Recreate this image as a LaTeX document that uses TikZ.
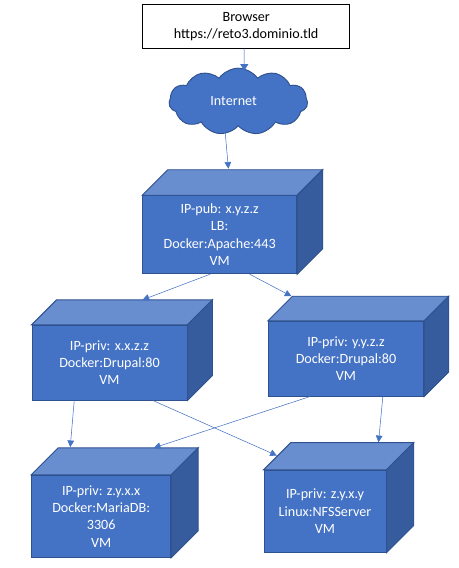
\documentclass[tikz,border=0pt]{standalone}
\usepackage{fontspec}
\setmainfont{Carlito}
\usetikzlibrary{positioning, calc, arrows.meta, shapes.symbols}

\begin{document}
\begin{tikzpicture}[x=0.75pt, y=-0.75pt,
        vmface/.style={draw=myedge, line width=0.7pt, fill=myblue, text=white, align=center, font=\fontsize{10.6}{13}\selectfont, inner sep=0pt},
        vmtop/.style={draw=myedge, line width=0.7pt, fill=mylight},
        vmside/.style={draw=myedge, line width=0.7pt, fill=mydark},
        link/.style={->, >={Triangle[length=5pt, width=5pt]}, draw=myblue, line width=0.4pt}
    ]
        % Colours
        \definecolor{myblue}{RGB}{68, 114, 196}
        \definecolor{myedge}{RGB}{47, 82, 143}
        \definecolor{mylight}{RGB}{105, 142, 208}
        \definecolor{mydark}{RGB}{54, 92, 157}

        \useasboundingbox (0, 0) rectangle (459, 568);

        % Browser box
        \node[draw=black, line width=0.8pt, minimum width=155.5pt, minimum height=33pt, inner sep=0pt, align=center, font=\fontsize{10.6}{13}\selectfont] (browser) at (246.2, 26.3) {Browser\\https://reto3.dominio.tld};

        % Cloud
        \node[cloud, cloud puffs=11, cloud puff arc=110, aspect=2.1, draw=myedge, line width=0.7pt, fill=myblue, text=white, minimum width=104pt, minimum height=50pt, inner sep=0pt, font=\fontsize{10.6}{13}\selectfont] (internet) at (238.3, 101.5) {Internet\hspace*{7pt}};

        % The VM boxes: name / x1 / y1 / x2 / y2 / depth / text
        \foreach \name/\xa/\ya/\xb/\yb/\d/\txt in {
            lb/142.7/195.7/296.7/273.7/25.5/{IP-pub: x.y.z.z\\LB:\\Docker:Apache:443\\VM},
            drupalA/32/325.3/187/400/25/{IP-priv: x.x.z.z\\Docker:Drupal:80\\VM},
            drupalB/268.3/321.3/423.7/396/24.6/{IP-priv: y.y.z.z\\Docker:Drupal:80\\VM},
            maria/31.7/475.3/170.7/557.3/27/{IP-priv: z.y.x.x\\Docker:MariaDB:\\3306\\VM},
            nfs/264/470.3/386/552.3/27.3/{IP-priv: z.y.x.y\\Linux:NFSServer\\VM}} {
            \node[vmface, minimum width={(\xb-\xa)*0.75pt}, minimum height={(\yb-\ya)*0.75pt}] (\name) at ({(\xa+\xb)/2}, {(\ya+\yb)/2}) {\txt};
            \coordinate (\name-top) at ($(\name.north west)+(\d,-\d)$);
            \draw[vmtop] (\name.north west) -- (\name-top) -- ($(\name.north east)+(\d,-\d)$) -- (\name.north east) -- cycle;
            \draw[vmside] (\name.north east) -- ($(\name.north east)+(\d,-\d)$) -- ($(\name.south east)+(\d,-\d)$) -- (\name.south east) -- cycle;
        }

        % Connectors
        \draw[link, draw=myblue!40, line width=1pt, -{Triangle[length=5pt, width=6pt, myblue]}] ($(browser.south)+(-2,0)$) -- ($(internet.north)+(6,3)$);
        \draw[link] ($(internet.south)+(-14,-4)$) -- ($(lb-top)+(60.7,-1)$);
        \draw[link] ($(lb.south west)+(68,0)$) -- ($(drupalA-top)+(86,0)$);
        \draw[link] ($(lb.south west)+(107.3,0)$) -- ($(drupalB-top)+(-1,0)$);
        \draw[link] ($(drupalA.south west)+(42.7,0)$) -- ($(maria-top)+(12,-0.7)$);
        \draw[link] ($(drupalA.south west)+(121.3,0)$) -- ($(nfs-top)+(-14,13)$);
        \draw[link] ($(drupalB.south west)+(42.4,0)$) -- ($(maria-top)+(95.6,0)$);
        \draw[link] ($(drupalB.south west)+(115,0)$) -- ($(nfs-top)+(87.7,-0.3)$);

    \end{tikzpicture}
\end{document}
